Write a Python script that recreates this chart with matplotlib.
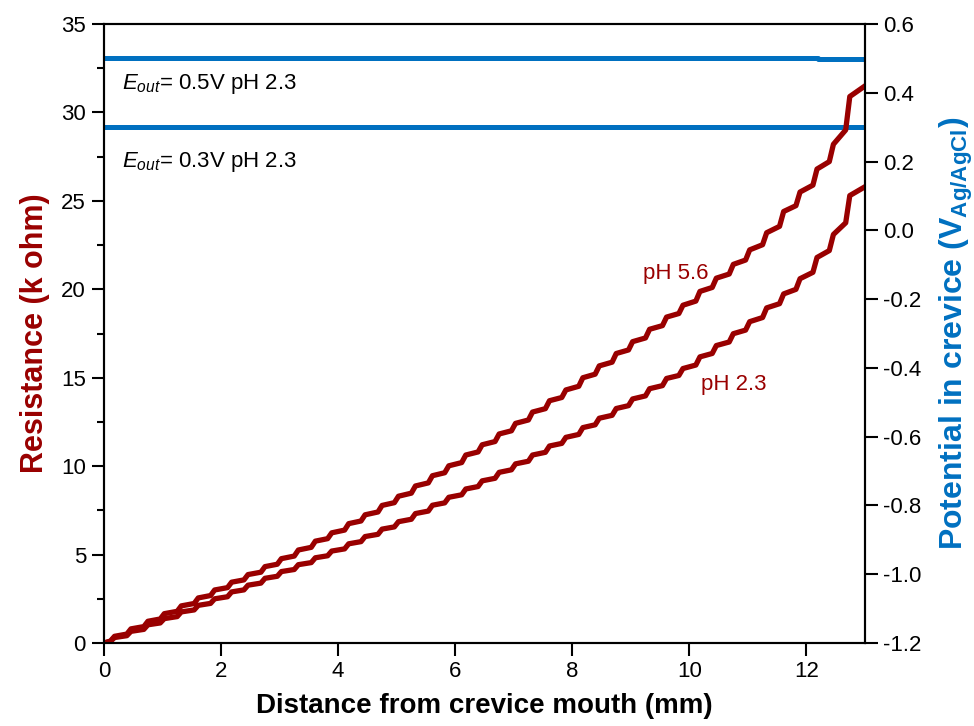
import numpy as np
import matplotlib
matplotlib.use('Agg')
import matplotlib.pyplot as plt
from matplotlib.ticker import MultipleLocator

plt.rcParams['font.family'] = ['Liberation Sans', 'DejaVu Sans']
plt.rcParams['mathtext.fontset'] = 'custom'
plt.rcParams['mathtext.rm'] = 'Liberation Sans'
plt.rcParams['mathtext.it'] = 'Liberation Sans:italic'
plt.rcParams['mathtext.bf'] = 'Liberation Sans:bold'

RED = '#990000'
BLUE = '#0070C0'

# riser positions along the crevice (mm), plus mouth and tip
dist = [0.0, 0.16, 0.44, 0.73, 1.01, 1.30, 1.59, 1.87, 2.16, 2.44, 2.73,
        3.01, 3.30, 3.59, 3.87, 4.16, 4.44, 4.73, 5.01, 5.30, 5.59,
        5.87, 6.16, 6.44, 6.73, 7.01, 7.30, 7.59, 7.87, 8.16, 8.44,
        8.73, 9.01, 9.30, 9.59, 9.87, 10.16, 10.44, 10.73, 11.01, 11.30,
        11.59, 11.87, 12.16, 12.44, 12.72, 13.0]

# resistance (k ohm) just after each riser
r_ph56 = [0.0, 0.38, 0.80, 1.23, 1.66, 2.10, 2.55, 3.00, 3.44, 3.87, 4.32,
          4.77, 5.26, 5.76, 6.23, 6.75, 7.25, 7.78, 8.30, 8.88, 9.46,
          10.02, 10.63, 11.21, 11.82, 12.42, 13.06, 13.70, 14.31, 15.00, 15.67,
          16.37, 17.04, 17.74, 18.43, 19.10, 19.88, 20.63, 21.41, 22.23, 23.20,
          24.40, 25.50, 26.80, 28.20, 30.90, 31.50]
r_ph23 = [0.0, 0.31, 0.66, 1.03, 1.38, 1.76, 2.13, 2.50, 2.89, 3.27, 3.66,
          4.04, 4.43, 4.82, 5.20, 5.61, 6.02, 6.44, 6.86, 7.32, 7.79,
          8.24, 8.71, 9.17, 9.65, 10.13, 10.63, 11.14, 11.63, 12.18, 12.71,
          13.26, 13.80, 14.38, 14.96, 15.52, 16.18, 16.82, 17.49, 18.17, 18.95,
          19.74, 20.60, 21.80, 23.10, 25.30, 25.80]

# crevice potential (V vs Ag/AgCl) for the two applied potentials
e05_dist = [0.0, 12.2, 12.2, 13.0]
e05_pot = [0.5, 0.5, 0.497, 0.497]
e03_dist = [0.0, 13.0]
e03_pot = [0.3, 0.3]

pot_ticks = [-1.2, -1.0, -0.8, -0.6, -0.4, -0.2, 0.0, 0.2, 0.4, 0.6]


def staircase(x, y, tread=0.3):
    # sloped tread then a steep riser at each position
    xs, ys = [x[0]], [y[0]]
    for i in range(len(x) - 2):
        xs += [x[i + 1] - 0.05, x[i + 1] + 0.02]
        ys += [y[i] + tread * (y[i + 1] - y[i]), y[i + 1]]
    xs.append(x[-1])
    ys.append(y[-1])
    return xs, ys


fig = plt.figure(figsize=(9.74, 7.26), dpi=100)
ax = fig.add_axes([0.1068, 0.1143, 0.7813, 0.8526])
ax2 = ax.twinx()

x56, y56 = staircase(dist, r_ph56)
x23, y23 = staircase(dist, r_ph23)
ax.plot(x56, y56, color=RED, lw=3.8, solid_joinstyle='round')
ax.plot(x23, y23, color=RED, lw=3.8, solid_joinstyle='round')

ax2.plot(e05_dist, e05_pot, color=BLUE, lw=3.6)
ax2.plot(e03_dist, e03_pot, color=BLUE, lw=3.6)

ax.set_zorder(ax2.get_zorder() + 1)
ax.patch.set_visible(False)

ax.set_xlim(0, 13)
ax.set_ylim(0, 35)
ax2.set_ylim(-1.2, 0.6)

ax.xaxis.set_major_locator(MultipleLocator(2))
ax.yaxis.set_major_locator(MultipleLocator(5))
ax.yaxis.set_minor_locator(MultipleLocator(2.5))
ax2.set_yticks(pot_ticks)
ax2.set_yticklabels([f'{v:.1f}' for v in pot_ticks])

for a in (ax, ax2):
    a.tick_params(which='major', direction='out', length=9, width=1.5,
                  labelsize=16, pad=4)
    a.tick_params(which='minor', direction='out', length=5, width=1.5)
    for s in a.spines.values():
        s.set_linewidth(1.5)
ax.tick_params(top=False, right=False)

ax.set_xlabel('Distance from crevice mouth (mm)', fontsize=20,
              fontweight='bold', labelpad=8)
ax.set_ylabel('Resistance (k ohm)', fontsize=22, fontweight='bold',
              color=RED, labelpad=8)
ax2.set_ylabel(r'Potential in crevice (V$_{\mathbf{Ag/AgCl}}$)', fontsize=23,
               fontweight='bold', color=BLUE, labelpad=12)

ax.text(0.3, 31.6, r'$E_{out}$= 0.5V pH 2.3', fontsize=16, va='center')
ax.text(0.3, 27.2, r'$E_{out}$= 0.3V pH 2.3', fontsize=16, va='center')
ax.text(9.2, 20.9, 'pH 5.6', fontsize=16, color=RED, va='center')
ax.text(10.2, 14.6, 'pH 2.3', fontsize=16, color=RED, va='center')

fig.savefig('out.png', dpi=100)
